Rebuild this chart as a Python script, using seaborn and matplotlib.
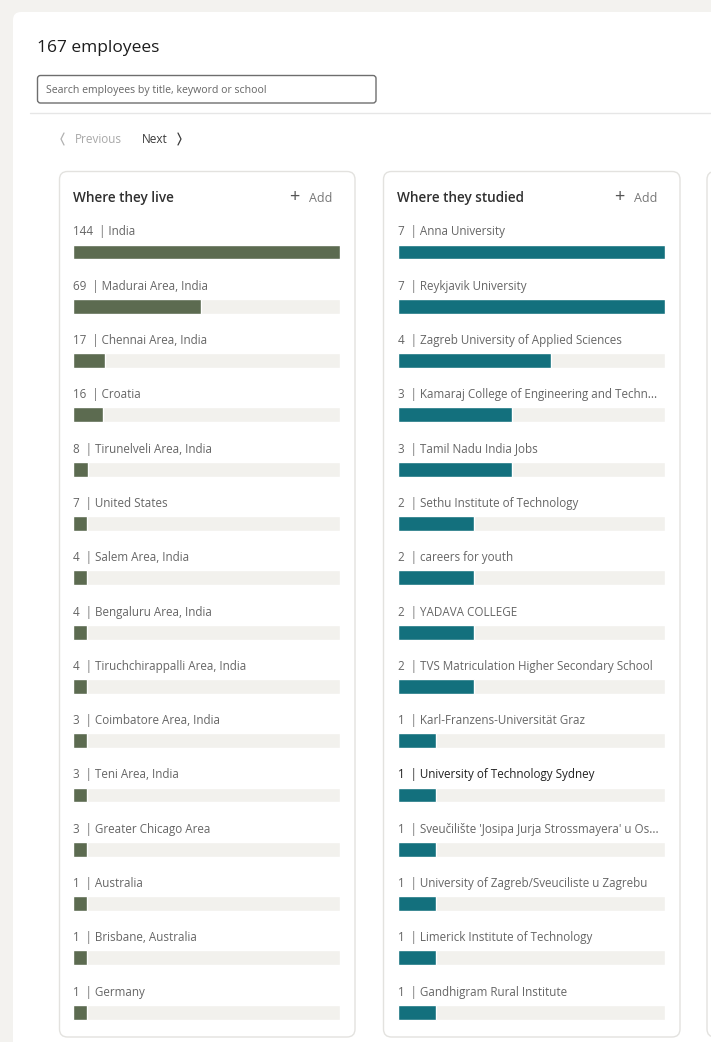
import numpy as np
import pandas as pd
import matplotlib.pyplot as plt
import seaborn as sns
from matplotlib.patches import FancyBboxPatch

# data
live_places = ['India', 'Madurai Area, India', 'Chennai Area, India', 'Croatia',
               'Tirunelveli Area, India', 'United States', 'Salem Area, India',
               'Bengaluru Area, India', 'Tiruchchirappalli Area, India',
               'Coimbatore Area, India', 'Teni Area, India', 'Greater Chicago Area',
               'Australia', 'Brisbane, Australia', 'Germany']
live_counts = [144, 69, 17, 16, 8, 7, 4, 4, 4, 3, 3, 3, 1, 1, 1]

schools = ['Anna University', 'Reykjavik University',
           'Zagreb University of Applied Sciences',
           'Kamaraj College of Engineering and Techn...',
           'Tamil Nadu India Jobs', 'Sethu Institute of Technology',
           'careers for youth', 'YADAVA COLLEGE',
           'TVS Matriculation Higher Secondary School',
           'Karl-Franzens-Universität Graz', 'University of Technology Sydney',
           "Sveučilište 'Josipa Jurja Strossmayera' u Os...",
           'University of Zagreb/Sveuciliste u Zagrebu',
           'Limerick Institute of Technology', 'Gandhigram Rural Institute']
school_counts = [7, 7, 4, 3, 3, 2, 2, 2, 2, 1, 1, 1, 1, 1, 1]

total_employees = 167
hovered = 'University of Technology Sydney'

sns.set_theme(style='white')
plt.rcParams['font.family'] = ['Open Sans', 'DejaVu Sans']

W, H = 711, 1042
fig = plt.figure(figsize=(W / 100, H / 100), dpi=100, facecolor='#f3f2ef')

# page chrome drawn in pixel coords
bg = fig.add_axes([0, 0, 1, 1])
bg.set_xlim(0, W)
bg.set_ylim(H, 0)
bg.axis('off')

def box(x0, y0, x1, y1, r, fc='white', ec='none', lw=1):
    bg.add_patch(FancyBboxPatch((x0, y0), x1 - x0, y1 - y0,
                                boxstyle=f'round,pad=0,rounding_size={r}',
                                fc=fc, ec=ec, lw=lw))

box(13, 12, W + 40, H + 40, 8)
bg.text(37, 48.5, f'{total_employees} employees', fontsize=12.5, color='#1d1d1d', va='center')
box(37.5, 75.5, 376, 103, 3, ec='#6e6e6e', lw=1)
bg.text(46, 90, 'Search employees by title, keyword or school', fontsize=7.6,
        color='#666666', va='center')
bg.plot([30, W], [113, 113], color='#e6e6e6', lw=1)

bg.plot([64, 61, 64], [133, 139, 145], color='#b0b0b0', lw=0.9)
bg.text(75, 139.5, 'Previous', fontsize=8.5, color='#a8a8a8', va='center')
bg.text(142, 139.5, 'Next', fontsize=8.5, color='#3a3a3a', va='center')
bg.plot([178, 181, 178], [133, 139, 145], color='#3a3a3a', lw=0.9)

panels = [(59, 355, 'Where they live'), (383, 680, 'Where they studied')]
for x0, x1, title in panels:
    box(x0 + 0.5, 171.5, x1, 1037, 8, ec='#e3e2df')
    bg.text(x0 + 14, 198, title, fontsize=9.8, fontweight='semibold',
            color='#303030', va='center')
    bg.text(x1 - 66, 196.5, '+', fontsize=13, color='#555555', va='center', ha='left')
    bg.text(x1 - 46, 198, 'Add', fontsize=9, color='#777777', va='center')
box(707, 171.5, W + 40, 1037, 8, ec='#e3e2df')

# bar panels
row_step = 54.3
first_center = 252
n_rows = len(live_places)
top_px = first_center - 0.5 * row_step
bot_px = first_center + (n_rows - 0.5) * row_step


def draw_panel(x_left, names, counts, color):
    ax = fig.add_axes([x_left / W, 1 - bot_px / H, 267 / W, (bot_px - top_px) / H])
    df = pd.DataFrame({'name': names, 'count': counts})
    top = df['count'].max()
    df['track'] = top
    # the page shows a minimum bar stub for tiny counts
    df['shown'] = np.maximum(df['count'], top * 0.052)
    sns.barplot(data=df, x='track', y='name', color='#f2f1ed', width=0.275,
                saturation=1, ax=ax)
    sns.barplot(data=df, x='shown', y='name', color=color, width=0.275,
                saturation=1, ax=ax)
    ax.set_xlim(0, top)
    ax.set_ylim(len(names) - 0.5, -0.5)
    ax.axis('off')
    for i, row in df.iterrows():
        c = '#222222' if row['name'] == hovered else '#666666'
        ax.text(0, i - 0.37, f"{row['count']}  | {row['name']}", fontsize=8.4,
                color=c, va='center', ha='left')


draw_panel(73, live_places, live_counts, '#5c6b50')
draw_panel(398, schools, school_counts, '#13707d')

fig.savefig('out.png', dpi=100, facecolor=fig.get_facecolor())
